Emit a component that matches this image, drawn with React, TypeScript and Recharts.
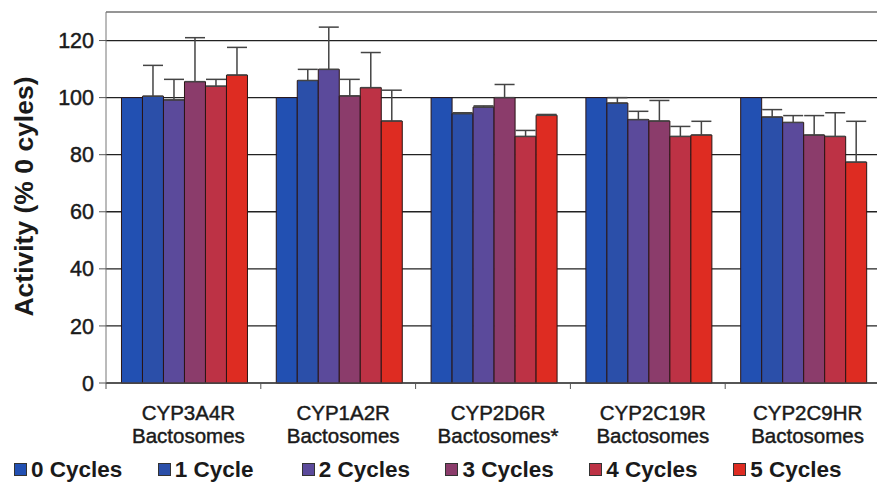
import { BarChart, Bar, XAxis, YAxis, CartesianGrid, ErrorBar, ReferenceLine } from 'recharts';

const categories = ['CYP3A4R', 'CYP1A2R', 'CYP2D6R', 'CYP2C19R', 'CYP2C9HR'];
const subLabels = ['Bactosomes', 'Bactosomes', 'Bactosomes*', 'Bactosomes', 'Bactosomes'];

const cycles0 = [100, 100, 100, 100, 100];
const cycles1 = [100.5, 106, 94.4, 98.1, 93.2];
const cycles2 = [99.2, 109.9, 96.7, 92.3, 91.3];
const cycles3 = [105.6, 100.6, 100, 91.8, 86.9];
const cycles4 = [104, 103.5, 86.4, 86.4, 86.4];
const cycles5 = [107.9, 91.8, 93.8, 86.9, 77.4];

// upper error (only the + side is drawn)
const err1 = [10.8, 3.9, 0.3, 1.9, 2.6];
const err2 = [7.2, 14.8, 0.4, 2.9, 2.4];
const err3 = [15.4, 5.8, 4.6, 7.2, 6.8];
const err4 = [2.4, 12.3, 2.1, 3.5, 8.3];
const err5 = [9.7, 10.8, 0.3, 4.8, 14.3];

const seriesNames = ['0 Cycles', '1 Cycle', '2 Cycles', '3 Cycles', '4 Cycles', '5 Cycles'];
const colors = ['#2250b2', '#2b4fa9', '#5b4a9b', '#8b3c6b', '#bd3245', '#de2c22'];
const yTicks = [0, 20, 40, 60, 80, 100, 120];

const values = [cycles0, cycles1, cycles2, cycles3, cycles4, cycles5];
const errs = [null, err1, err2, err3, err4, err5];

const data = categories.map((name, i) => {
  const row: any = { name, sub: subLabels[i] };
  values.forEach((v, s) => {
    row['c' + s] = v[i];
    const e = errs[s];
    if (e) row['e' + s] = [0, e[i]];
  });
  return row;
});

const FONT = '"Liberation Sans", Arial, sans-serif';
const BAND = (880 - 106) / categories.length;

function CategoryTick(props: any) {
  const { x, y, payload, index } = props;
  const txt = { textAnchor: 'middle' as const, fontFamily: FONT, fontSize: 20.5, fill: '#1a1a1a', stroke: '#1a1a1a', strokeWidth: 0.45 };
  return (
    <g>
      <line x1={x - BAND / 2} x2={x - BAND / 2} y1={y - 8} y2={y - 2} stroke="#555" />
      <text x={x + 5} y={y + 29} {...txt}>
        {payload.value}
      </text>
      <text x={x + 5} y={y + 52} {...txt}>
        {data[index]?.sub}
      </text>
    </g>
  );
}

function LegendBox() {
  return (
    <div
      style={{
        height: 34,
        boxSizing: 'border-box',
        paddingTop: 9,
        display: 'flex',
        alignItems: 'center',
        paddingLeft: 14,
        fontFamily: FONT,
        fontSize: 22.5,
        fontWeight: 'bold',
        color: '#1a1a1a',
      }}
    >
      {seriesNames.map((n, i) => (
        <div key={n} style={{ width: 146, display: 'flex', alignItems: 'center' }}>
          <span style={{ display: 'inline-block', width: 11, height: 11, background: colors[i], border: '1px solid #333', marginRight: 4 }} />
          <span>{n}</span>
        </div>
      ))}
    </div>
  );
}

export default function App() {
  return (
    <div style={{ position: 'absolute', left: 0, top: 0, width: 877, height: 482, overflow: 'hidden', background: '#fff' }}>
      <BarChart
        width={880}
        height={448}
        data={data}
        margin={{ top: 12, right: 0, left: 0, bottom: 0 }}
        barCategoryGap="10%"
        barGap={0}
      >
        <CartesianGrid vertical={false} stroke="#222" strokeWidth={1.3} />
        <ReferenceLine y={130} stroke="#aaa" strokeWidth={1.5} />
        <XAxis
          dataKey="name"
          height={65}
          tick={<CategoryTick />}
          tickLine={false}
          axisLine={{ stroke: '#555' }}
          interval={0}
        />
        <YAxis
          width={106}
          domain={[0, 130]}
          ticks={yTicks}
          tickSize={7}
          tickMargin={5}
          axisLine={{ stroke: '#777' }}
          tickLine={{ stroke: '#555' }}
          tick={{ fontFamily: FONT, fontSize: 21.5, fill: '#1a1a1a', stroke: '#1a1a1a', strokeWidth: 0.45 }}
          label={{
            value: 'Activity (% 0 cyles)',
            angle: -90,
            position: 'insideLeft',
            offset: 24,
            dy: -1,
            style: { textAnchor: 'middle', fontFamily: FONT, fontSize: 26.5, fontWeight: 'bold', fill: '#1a1a1a' },
          }}
        />
        {values.map((_, s) => (
          <Bar key={s} dataKey={'c' + s} name={seriesNames[s]} fill={colors[s]} stroke="#2a1515" strokeWidth={1} isAnimationActive={false}>
            {errs[s] && <ErrorBar dataKey={'e' + s} width={10} stroke="#444" strokeWidth={1.5} direction="y" />}
          </Bar>
        ))}
      </BarChart>
      <LegendBox />
    </div>
  );
}
